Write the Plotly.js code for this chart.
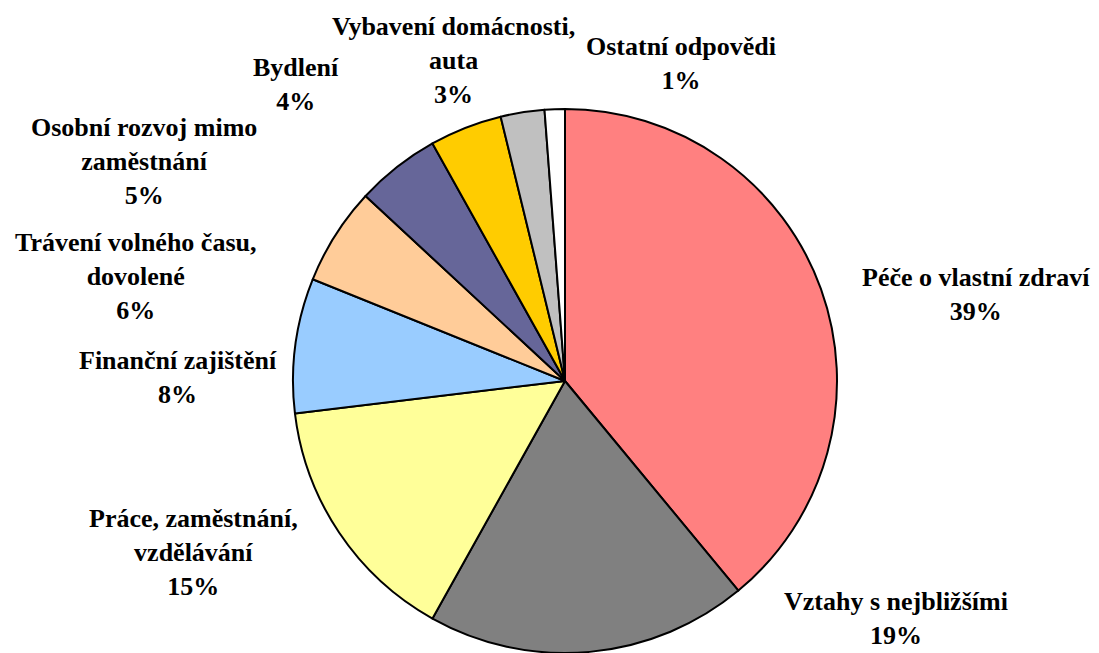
<!DOCTYPE html>
<html>
<head>
<meta charset="utf-8">
<script src="https://cdn.plot.ly/plotly-3.0.1.min.js"></script>
<style>html,body{margin:0;padding:0;background:#fff;}#chart{width:1099px;height:653px;}</style>
</head>
<body>
<div id="chart"></div>
<script>
const categories = ["Péče o vlastní zdraví", "Vztahy s nejbližšími", "Práce, zaměstnání, vzdělávání", "Finanční zajištění", "Trávení volného času, dovolené", "Osobní rozvoj mimo zaměstnání", "Bydlení", "Vybavení domácnosti, auta", "Ostatní odpovědi"];
const labelLines = ["Péče o vlastní zdraví", "Vztahy s nejbližšími", "Práce, zaměstnání,<br>vzdělávání", "Finanční zajištění", "Trávení volného času,<br>dovolené", "Osobní rozvoj mimo<br>zaměstnání", "Bydlení", "Vybavení domácnosti,<br>auta", "Ostatní odpovědi"];
const values = [39.0, 19.1, 15.0, 8.0, 5.8, 5.0, 4.3, 2.6, 1.2];
const colors = ["#FF8080", "#808080", "#FFFF99", "#99CCFF", "#FFCC99", "#666699", "#FFCC00", "#C0C0C0", "#FFFFFF"];

// label anchor positions (pixels in the 1099x653 frame)
const labelPos = [[976, 294], [896, 618], [193, 552], [178, 377], [135, 276], [144, 161], [296, 85], [453, 60], [681, 63]];

const W = 1099, H = 653;
const total = values.reduce((a, b) => a + b, 0);
const annotations = values.map((v, i) => ({
  xref: 'paper', yref: 'paper',
  x: labelPos[i][0] / W, y: 1 - labelPos[i][1] / H,
  xanchor: 'center', yanchor: 'middle',
  text: '<b>' + labelLines[i] + '<br>' + Math.round(v / total * 100) + '%</b>',
  showarrow: false, align: 'center',
  font: {family: '"Liberation Serif", "Times New Roman", serif', size: 26, color: '#000'}
}));

const cx = 565, cy = 381, r = 272;
const trace = {
  type: 'pie',
  labels: categories,
  values: values,
  sort: false,
  direction: 'clockwise',
  rotation: 0,
  marker: {colors: colors, line: {color: '#000', width: 2}},
  textinfo: 'none',
  hoverinfo: 'label+percent',
  domain: {x: [(cx - r) / W, (cx + r) / W], y: [1 - (cy + r) / H, 1 - (cy - r) / H]}
};

Plotly.newPlot('chart', [trace], {
  width: W, height: H,
  margin: {l: 0, r: 0, t: 0, b: 0},
  showlegend: false,
  paper_bgcolor: '#fff',
  font: {family: '"Liberation Serif", serif'},
  annotations: annotations
}, {displayModeBar: false, staticPlot: true});
</script>
</body>
</html>
